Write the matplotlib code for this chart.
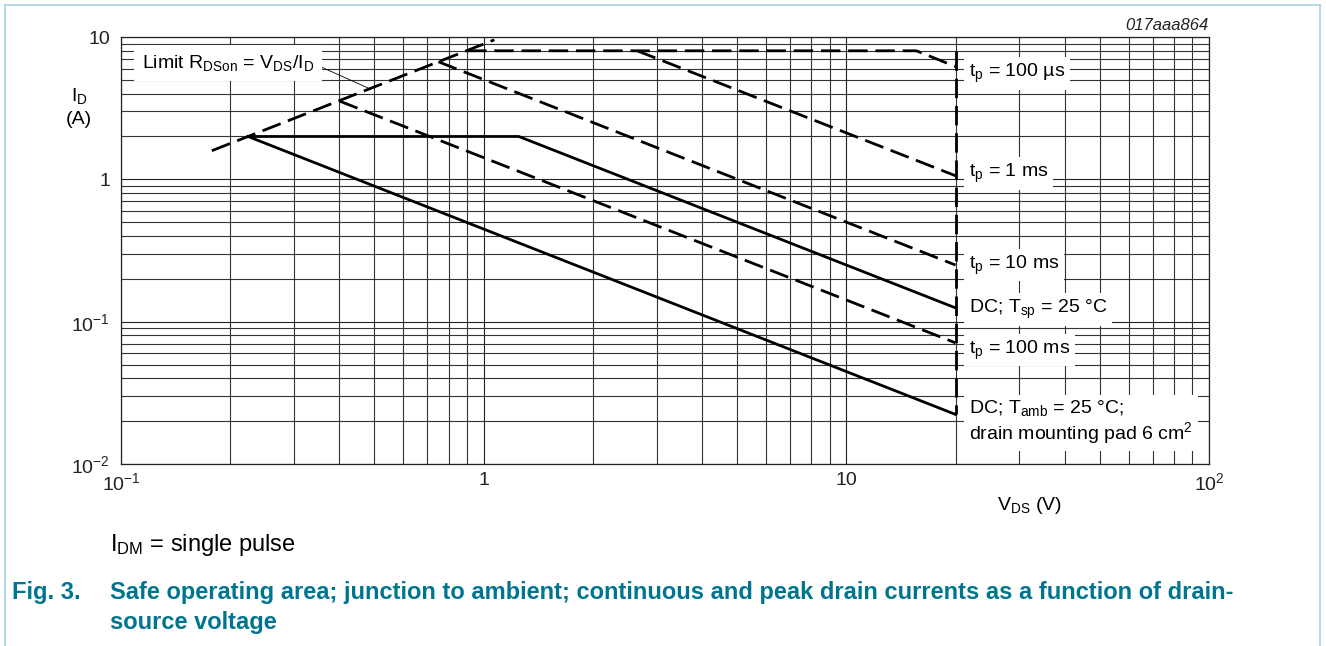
import numpy as np
import matplotlib
matplotlib.use('Agg')
import matplotlib.pyplot as plt
from matplotlib.lines import Line2D
from matplotlib.ticker import LogLocator, NullFormatter

plt.rcParams['font.family'] = ['Liberation Sans', 'DejaVu Sans']
plt.rcParams['mathtext.fontset'] = 'custom'
plt.rcParams['mathtext.rm'] = 'Liberation Sans'
plt.rcParams['mathtext.it'] = 'Liberation Sans:italic'
plt.rcParams['mathtext.bf'] = 'Liberation Sans:bold'

# 数据 (V_DS, I_D) 拐点
r_dson = 0.112
limit_v = [0.178, 1.07]
limit_i = [v / r_dson for v in limit_v]

tp100us_v = [0.9, 15.6, 20]
tp100us_i = [8.0, 8.0, 6.2]
tp1ms_v = [2.65, 20]
tp1ms_i = [8.0, 1.06]
tp10ms_v = [0.75, 20]
tp10ms_i = [6.7, 0.25]
tp100ms_v = [0.40, 20]
tp100ms_i = [3.55, 0.071]
dc_sp_v = [0.224, 1.25, 20]
dc_sp_i = [2.0, 2.0, 0.125]
dc_amb_v = [0.224, 20]
dc_amb_i = [2.0, 0.0223]
vmax_v = [20, 20]
vmax_i = [8.0, 0.0223]

xticks = [0.1, 1, 10, 100]
xticklabels = ['10$^{-1}$', '1', '10', '10$^{2}$']
yticks = [0.01, 0.1, 1, 10]
yticklabels = ['10$^{-2}$', '10$^{-1}$', '1', '10']

# 右侧标签: (文本, I_D 位置)
labels = [
    ('t$_\\mathregular{p}$ = 100 µs', 5.58),
    ('t$_\\mathregular{p}$ = 1 ms', 1.107),
    ('t$_\\mathregular{p}$ = 10 ms', 0.25),
    ('DC; T$_\\mathregular{sp}$ = 25 °C', 0.121),
    ('t$_\\mathregular{p}$ = 100 ms', 0.0632),
    ('DC; T$_\\mathregular{amb}$ = 25 °C;\ndrain mounting pad 6 cm$^\\mathregular{2}$', 0.0197),
]

fig = plt.figure(figsize=(13.26, 6.46), dpi=100)
ax = fig.add_axes([121 / 1326, 1 - 464 / 646, 1088 / 1326, 427 / 646])
ax.set_xscale('log')
ax.set_yscale('log')
ax.set_xlim(0.1, 100)
ax.set_ylim(0.01, 10)

ax.xaxis.set_minor_locator(LogLocator(base=10, subs=np.arange(2, 10)))
ax.yaxis.set_minor_locator(LogLocator(base=10, subs=np.arange(2, 10)))
ax.xaxis.set_minor_formatter(NullFormatter())
ax.yaxis.set_minor_formatter(NullFormatter())
ax.set_xticks(xticks, xticklabels)
ax.set_yticks(yticks, yticklabels)
ax.tick_params(which='both', length=0, labelsize=14, colors='#222222')
ax.tick_params(axis='x', pad=6)
ax.tick_params(axis='y', pad=8)
ax.grid(which='major', color='#222222', lw=0.8)
ax.grid(which='minor', color='#333333', lw=0.8)
ax.set_axisbelow(True)
for s in ax.spines.values():
    s.set_color('#222222')
    s.set_linewidth(0.9)

dash = dict(color='black', lw=2.0, ls=(0, (7, 2.8)), solid_capstyle='butt', zorder=3)
solid = dict(color='black', lw=2.0, ls='-', zorder=3)
ax.plot(limit_v, limit_i, **dash)
ax.plot(tp100us_v, tp100us_i, **dash)
ax.plot(tp1ms_v, tp1ms_i, **dash)
ax.plot(tp10ms_v, tp10ms_i, **dash)
ax.plot(tp100ms_v, tp100ms_i, **dash)
ax.plot(vmax_v, vmax_i, **dash)
ax.plot(dc_sp_v, dc_sp_i, **solid)
ax.plot(dc_amb_v, dc_amb_i, **solid)

box = dict(boxstyle='square,pad=0.25', fc='white', ec='none')
for txt, y in labels:
    ax.text(21.8, y, txt, fontsize=14, ha='left', va='center', bbox=box,
            zorder=4, linespacing=1.1)

# Limit R_DSon 标签 + 引线
ax.text(0.1143, 6.56, 'Limit R$_\\mathregular{DSon}$ = V$_\\mathregular{DS}$/I$_\\mathregular{D}$',
        fontsize=14, ha='left', va='center', zorder=4,
        bbox=dict(boxstyle='square,pad=0.4', fc='white', ec='none'))
ax.plot([0.3464, 0.485], [6.36, 0.485 / r_dson], color='black', lw=0.6, zorder=3)

fig.text(1209 / 1326, 1 - 25 / 646, '017aaa864', fontsize=12, style='italic',
         ha='right', va='center', color='#222222')
fig.text(79 / 1326, 1 - 96 / 646, 'I$_\\mathregular{D}$', fontsize=14, ha='center', va='center')
fig.text(79 / 1326, 1 - 119 / 646, '(A)', fontsize=14, ha='center', va='center')
fig.text(1029 / 1326, 1 - 505 / 646, 'V$_\\mathregular{DS}$ (V)', fontsize=14, ha='center', va='center')

# 图注
teal = '#00758f'
fig.text(110 / 1326, 1 - 545 / 646, 'I$_\\mathregular{DM}$ = single pulse', fontsize=17,
         ha='left', va='center')
fig.text(12 / 1326, 1 - 593 / 646, 'Fig. 3.', fontsize=17, weight='bold', color=teal,
         ha='left', va='center')
fig.text(110 / 1326, 1 - 593 / 646,
         'Safe operating area; junction to ambient; continuous and peak drain currents as a function of drain-',
         fontsize=17, weight='bold', color=teal, ha='left', va='center')
fig.text(110 / 1326, 1 - 622 / 646, 'source voltage', fontsize=17, weight='bold', color=teal,
         ha='left', va='center')

# 外框
bc = '#a9d3df'
fig.add_artist(Line2D([5 / 1326, 5 / 1326], [0, 1 - 5 / 646], color=bc, lw=1.2))
fig.add_artist(Line2D([5 / 1326, 1320 / 1326], [1 - 5 / 646, 1 - 5 / 646], color=bc, lw=1.2))
fig.add_artist(Line2D([1320 / 1326, 1320 / 1326], [0, 1 - 5 / 646], color=bc, lw=1.2))

fig.savefig('out.png', dpi=100)
